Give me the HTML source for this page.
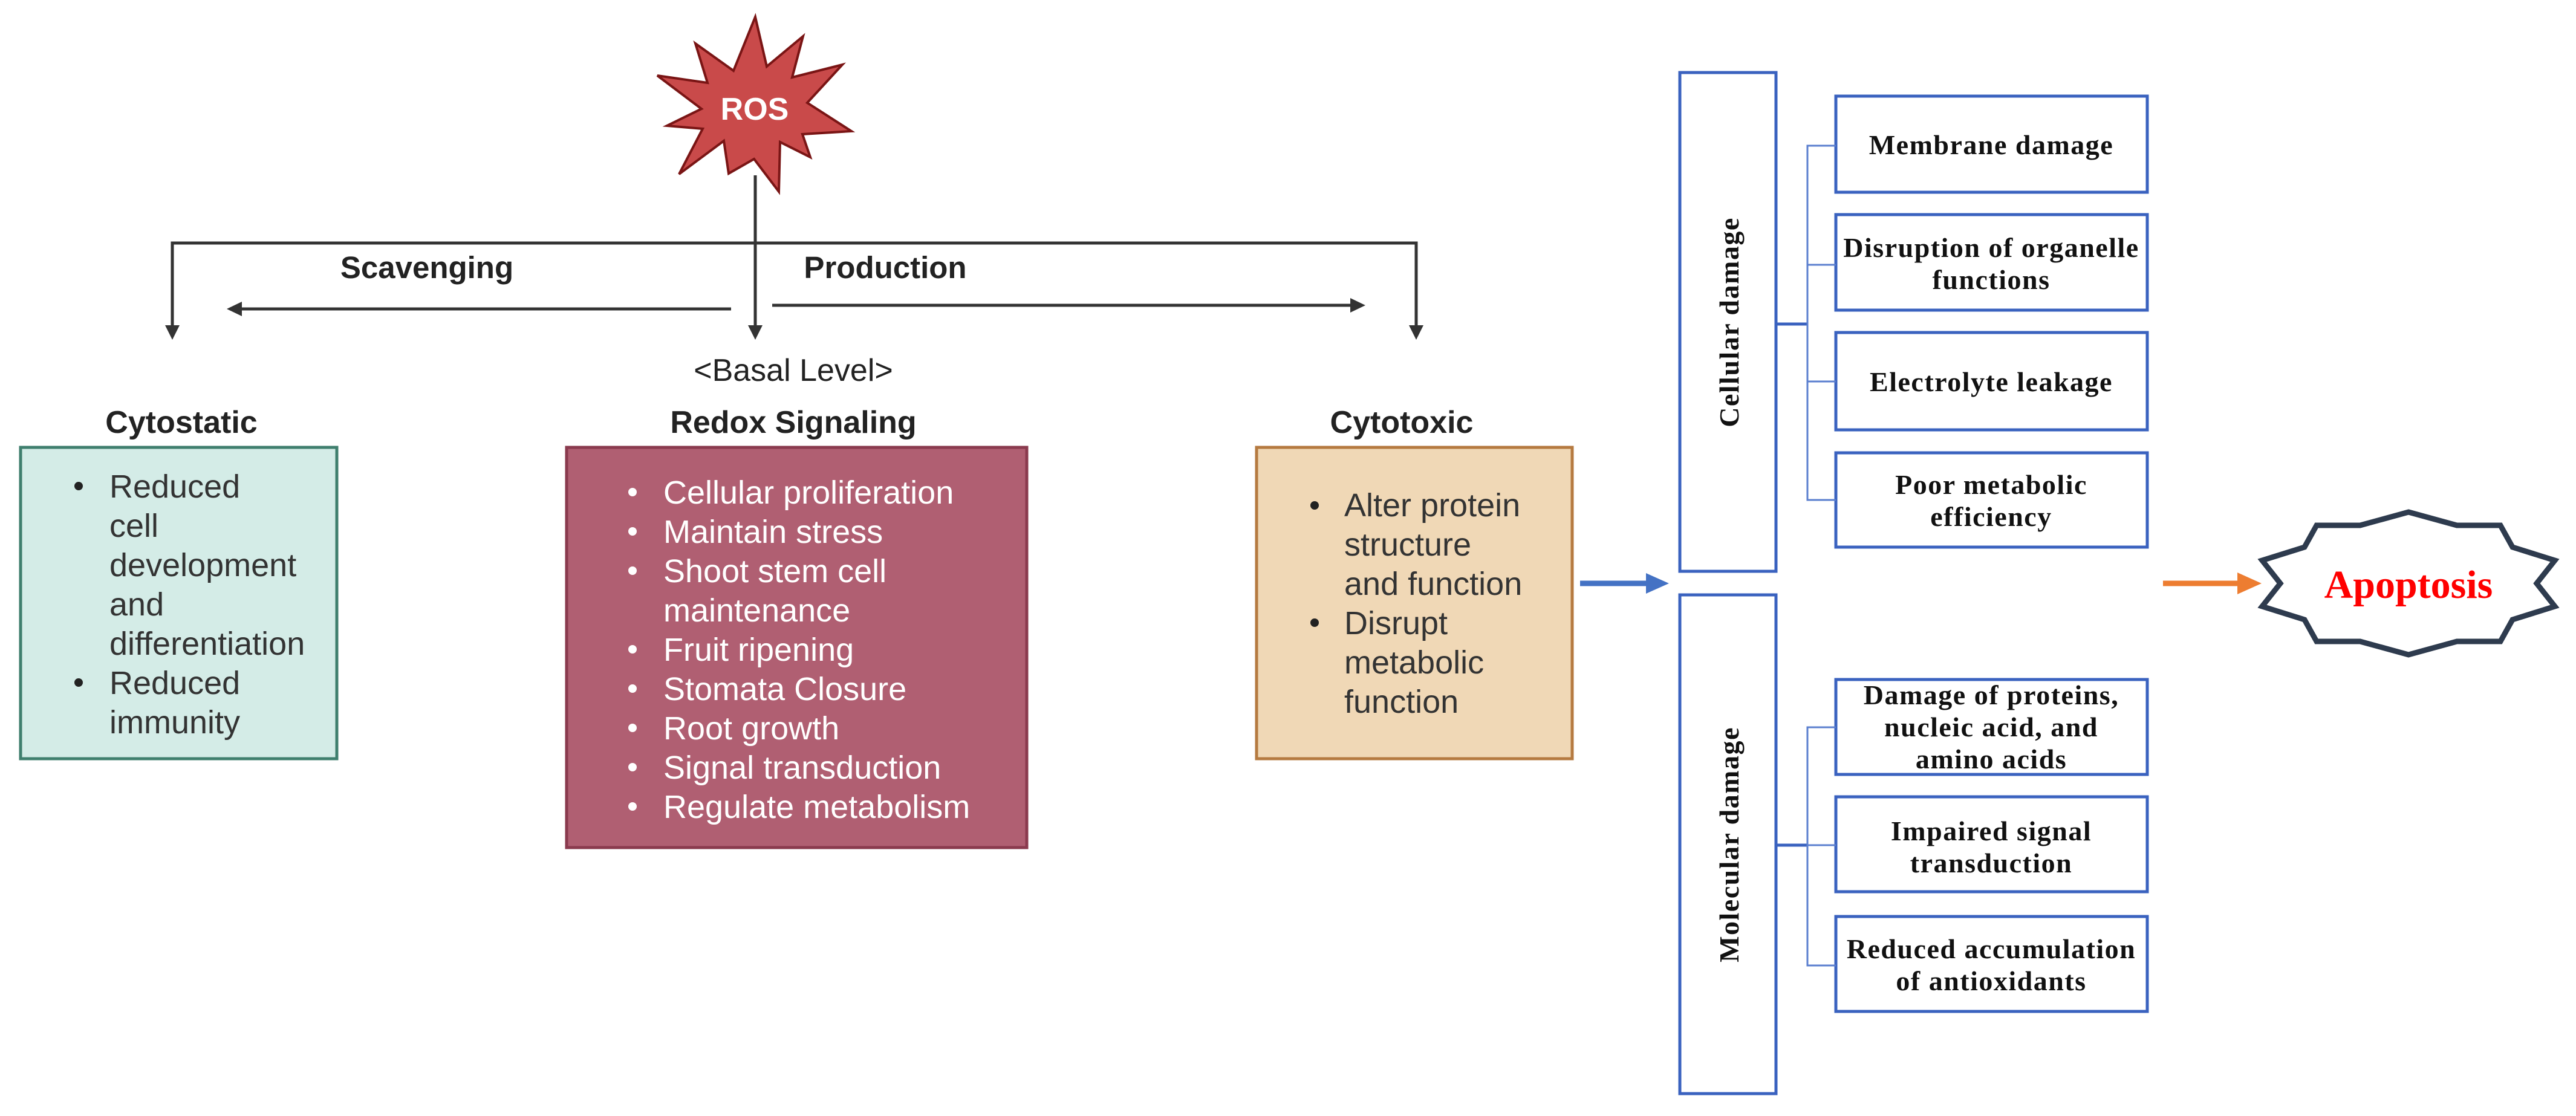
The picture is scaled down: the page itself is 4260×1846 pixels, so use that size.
<!DOCTYPE html>
<html><head><meta charset="utf-8"><style>
html,body{margin:0;padding:0;background:#fff;}
svg{display:block;}
.s{font-family:"Liberation Sans",sans-serif;}
.r{font-family:"Liberation Serif",serif;font-weight:bold;}
</style></head><body>
<svg width="4260" height="1846" viewBox="0 0 4260 1846" xmlns="http://www.w3.org/2000/svg">
<polygon points="1249,28 1268,110 1328,60 1310,128 1393,107 1335,170 1408,217 1327,222 1340,260 1290,235 1288,317 1247,263 1205,287 1197,233 1123,288 1162,213 1103,208 1160,180 1087,125 1170,137 1150,72 1213,117" fill="#c94a4a" stroke="#7a1515" stroke-width="4" stroke-linejoin="miter"/>
<text x="1248" y="198" class="s" font-size="52" font-weight="bold" fill="#fff" text-anchor="middle">ROS</text>
<g stroke="#333" stroke-width="5" fill="none">
<line x1="1249" y1="290" x2="1249" y2="545"/>
<polyline points="285,545 285,402 2342,402 2342,545"/>
<line x1="1209" y1="511" x2="395" y2="511"/>
<line x1="1277" y1="505" x2="2238" y2="505"/>
</g>
<g fill="#333">
<polygon points="1249,562 1237,538 1261,538"/>
<polygon points="285,562 273,538 297,538"/>
<polygon points="2342,562 2330,538 2354,538"/>
<polygon points="375,511 400,499 400,523"/>
<polygon points="2258,505 2233,493 2233,517"/>
</g>
<text x="706" y="460" class="s" font-size="51" font-weight="bold" fill="#222" text-anchor="middle">Scavenging</text>
<text x="1464" y="460" class="s" font-size="51" font-weight="bold" fill="#222" text-anchor="middle">Production</text>
<text x="1312" y="630" class="s" font-size="52" fill="#222" text-anchor="middle">&lt;Basal Level&gt;</text>
<text x="300" y="716" class="s" font-size="52" font-weight="bold" fill="#222" text-anchor="middle">Cytostatic</text>
<text x="1312" y="716" class="s" font-size="52" font-weight="bold" fill="#222" text-anchor="middle">Redox Signaling</text>
<text x="2318" y="716" class="s" font-size="52" font-weight="bold" fill="#222" text-anchor="middle">Cytotoxic</text>
<rect x="34" y="740" width="523" height="515" fill="#d4ece7" stroke="#3f7f6e" stroke-width="5"/>
<rect x="937" y="740" width="761" height="662" fill="#b05f72" stroke="#8a3a4e" stroke-width="5"/>
<rect x="2078" y="740" width="522" height="515" fill="#f0d8b6" stroke="#b57a40" stroke-width="5"/>
<g class="s" font-size="54" fill="#333">
<text x="181" y="823">Reduced</text>
<text x="181" y="888">cell</text>
<text x="181" y="953">development</text>
<text x="181" y="1018">and</text>
<text x="181" y="1083">differentiation</text>
<text x="181" y="1148">Reduced</text>
<text x="181" y="1213">immunity</text>
<text x="2223" y="854">Alter protein</text>
<text x="2223" y="919">structure</text>
<text x="2223" y="984">and function</text>
<text x="2223" y="1049">Disrupt</text>
<text x="2223" y="1114">metabolic</text>
<text x="2223" y="1179">function</text>
</g>
<g fill="#222"><circle cx="130" cy="804" r="7"/><circle cx="130" cy="1129" r="7"/><circle cx="2174" cy="836" r="7"/><circle cx="2174" cy="1030" r="7"/></g>
<g class="s" font-size="54" fill="#fff">
<text x="1097" y="833">Cellular proliferation</text>
<text x="1097" y="898">Maintain stress</text>
<text x="1097" y="963">Shoot stem cell</text>
<text x="1097" y="1028">maintenance</text>
<text x="1097" y="1093">Fruit ripening</text>
<text x="1097" y="1158">Stomata Closure</text>
<text x="1097" y="1223">Root growth</text>
<text x="1097" y="1288">Signal transduction</text>
<text x="1097" y="1353">Regulate metabolism</text>
</g>
<g fill="#fff"><circle cx="1046" cy="814" r="7"/><circle cx="1046" cy="879" r="7"/><circle cx="1046" cy="944" r="7"/><circle cx="1046" cy="1074" r="7"/><circle cx="1046" cy="1139" r="7"/><circle cx="1046" cy="1204" r="7"/><circle cx="1046" cy="1269" r="7"/><circle cx="1046" cy="1334" r="7"/></g>
<line x1="2613" y1="965" x2="2730" y2="965" stroke="#4472c4" stroke-width="9"/>
<polygon points="2760,965 2722,948 2722,982" fill="#4472c4"/>
<g fill="#fff" stroke="#3a62bf" stroke-width="5">
<rect x="2778" y="120" width="159" height="825"/>
<rect x="2778" y="984" width="159" height="825"/>
<rect x="3036" y="159" width="515" height="159"/>
<rect x="3036" y="355" width="515" height="158"/>
<rect x="3036" y="550" width="515" height="161"/>
<rect x="3036" y="749" width="515" height="156"/>
<rect x="3036" y="1124" width="515" height="157"/>
<rect x="3036" y="1318" width="515" height="157"/>
<rect x="3036" y="1516" width="515" height="157"/>
</g>
<g stroke="#5b7fcf" stroke-width="3" fill="none">
<line x1="2937" y1="536" x2="2989" y2="536" stroke-width="5" stroke="#3a62bf"/>
<polyline points="3036,241 2989,241 2989,827 3036,827"/>
<line x1="2989" y1="438" x2="3036" y2="438"/>
<line x1="2989" y1="631" x2="3036" y2="631"/>
<line x1="2937" y1="1398" x2="2989" y2="1398" stroke-width="5" stroke="#3a62bf"/>
<polyline points="3036,1203 2989,1203 2989,1597 3036,1597"/>
<line x1="2989" y1="1398" x2="3036" y2="1398"/>
</g>
<g class="r" font-size="46" fill="#111" text-anchor="middle" letter-spacing="1.5">
<text transform="translate(2875,533) rotate(-90)">Cellular damage</text>
<text transform="translate(2875,1397) rotate(-90)">Molecular damage</text>
<text x="3293" y="255">Membrane damage</text>
<text x="3293" y="425">Disruption of organelle</text>
<text x="3293" y="478">functions</text>
<text x="3293" y="647">Electrolyte leakage</text>
<text x="3293" y="817">Poor metabolic</text>
<text x="3293" y="870">efficiency</text>
<text x="3293" y="1165">Damage of proteins,</text>
<text x="3293" y="1218">nucleic acid, and</text>
<text x="3293" y="1271">amino acids</text>
<text x="3293" y="1390">Impaired signal</text>
<text x="3293" y="1443">transduction</text>
<text x="3293" y="1585">Reduced accumulation</text>
<text x="3293" y="1638">of antioxidants</text>
</g>
<line x1="3577" y1="965" x2="3708" y2="965" stroke="#ed7d31" stroke-width="9"/>
<polygon points="3740,965 3700,947 3700,983" fill="#ed7d31"/>
<polygon points="3983,847 4063,869 4135,869 4155,905 4225,927 4195,965 4225,1003 4155,1025 4135,1061 4063,1061 3983,1083 3903,1061 3831,1061 3811,1025 3741,1003 3771,965 3741,927 3811,905 3831,869 3903,869" fill="#fff" stroke="#2e3b4e" stroke-width="9" stroke-linejoin="miter"/>
<text x="3983" y="989" class="r" font-size="66" fill="#ff0000" text-anchor="middle">Apoptosis</text>
</svg>
</body></html>
